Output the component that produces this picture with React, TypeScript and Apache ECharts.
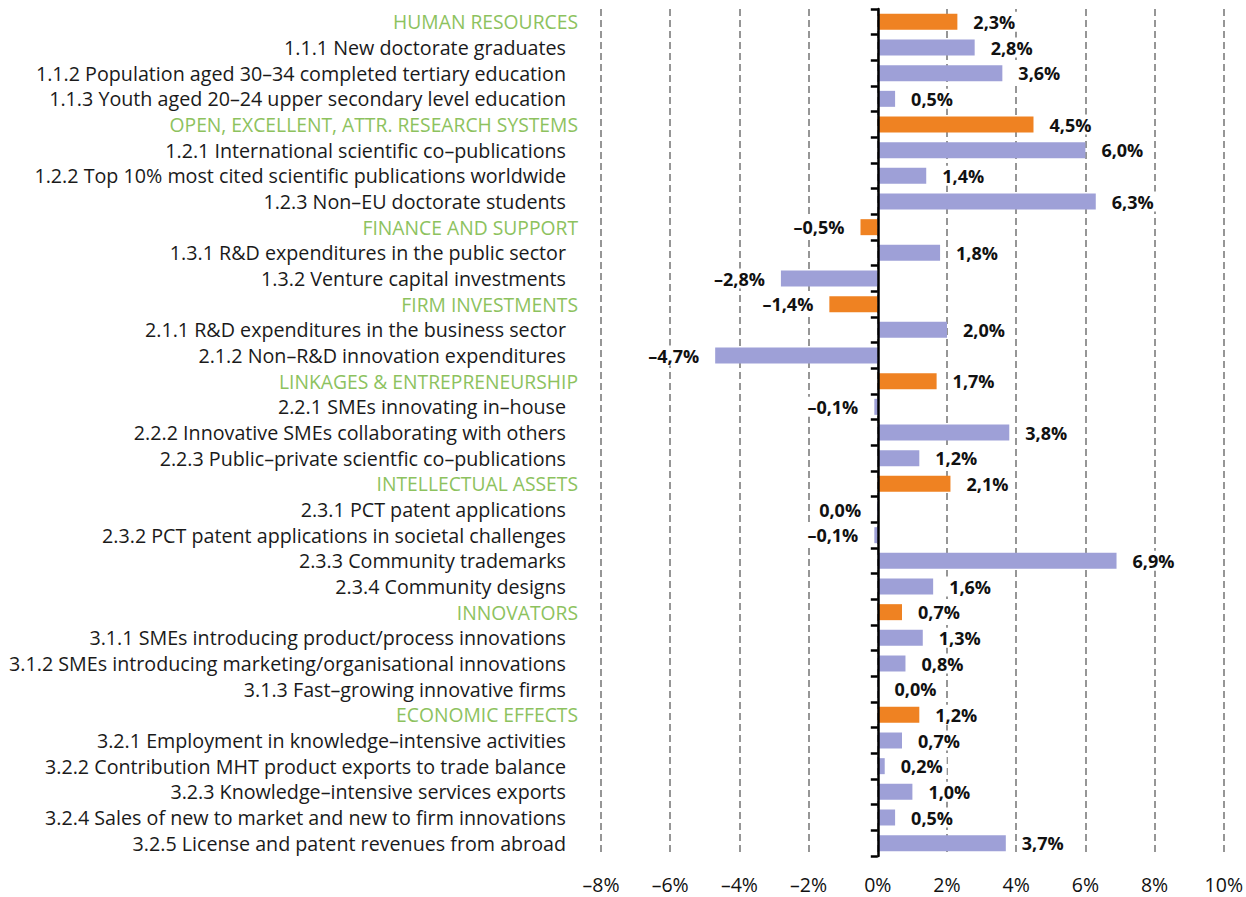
import React, { useEffect, useRef } from "react";
import * as echarts from "echarts";

const categories: string[] = [
  "HUMAN RESOURCES",
  "1.1.1 New doctorate graduates",
  "1.1.2 Population aged 30–34 completed tertiary education",
  "1.1.3 Youth aged 20–24 upper secondary level education",
  "OPEN, EXCELLENT, ATTR. RESEARCH SYSTEMS",
  "1.2.1 International scientific co–publications",
  "1.2.2 Top 10% most cited scientific publications worldwide",
  "1.2.3 Non–EU doctorate students",
  "FINANCE AND SUPPORT",
  "1.3.1 R&D expenditures in the public sector",
  "1.3.2 Venture capital investments",
  "FIRM INVESTMENTS",
  "2.1.1 R&D expenditures in the business sector",
  "2.1.2 Non–R&D innovation expenditures",
  "LINKAGES & ENTREPRENEURSHIP",
  "2.2.1 SMEs innovating in–house",
  "2.2.2 Innovative SMEs collaborating with others",
  "2.2.3 Public–private scientfic co–publications",
  "INTELLECTUAL ASSETS",
  "2.3.1 PCT patent applications",
  "2.3.2 PCT patent applications in societal challenges",
  "2.3.3 Community trademarks",
  "2.3.4 Community designs",
  "INNOVATORS",
  "3.1.1 SMEs introducing product/process innovations",
  "3.1.2 SMEs introducing marketing/organisational innovations",
  "3.1.3 Fast–growing innovative firms",
  "ECONOMIC EFFECTS",
  "3.2.1 Employment in knowledge–intensive activities",
  "3.2.2 Contribution MHT product exports to trade balance",
  "3.2.3 Knowledge–intensive services exports",
  "3.2.4 Sales of new to market and new to firm innovations",
  "3.2.5 License and patent revenues from abroad",
];

const values: number[] = [
  2.3, 2.8, 3.6, 0.5,
  4.5, 6.0, 1.4, 6.3,
  -0.5, 1.8, -2.8,
  -1.4, 2.0, -4.7,
  1.7, -0.1, 3.8, 1.2,
  2.1, -0.02, -0.1, 6.9, 1.6,
  0.7, 1.3, 0.8, 0.02,
  1.2, 0.7, 0.2, 1.0, 0.5, 3.7,
];

const headers: string[] = [
  "HUMAN RESOURCES",
  "OPEN, EXCELLENT, ATTR. RESEARCH SYSTEMS",
  "FINANCE AND SUPPORT",
  "FIRM INVESTMENTS",
  "LINKAGES & ENTREPRENEURSHIP",
  "INTELLECTUAL ASSETS",
  "INNOVATORS",
  "ECONOMIC EFFECTS",
];

const xTicks = { min: -8, max: 10, interval: 2 };

const ORANGE = "#EF8222";
const LAVENDER = "#9EA0D7";
const GREEN = "#8DC25E";
const FONT = "'Open Sans', 'Noto Sans', sans-serif";

function fmtValue(v: number): string {
  if (Math.abs(v) < 0.05) return "0,0%";
  const s = v.toFixed(1).replace(".", ",");
  return s.replace("-", "–") + "%";
}

export default function App() {
  const ref = useRef<HTMLDivElement>(null);

  useEffect(() => {
    document.body.style.margin = "0";
    if (!ref.current) return;
    const chart = echarts.init(ref.current, undefined, { renderer: "svg" });

    const data = values.map((v, i) => {
      const isHeader = headers.includes(categories[i]);
      return {
        value: v,
        itemStyle: { color: isHeader ? ORANGE : LAVENDER },
        label: { position: v < 0 ? "left" : "right" },
      };
    });

    chart.setOption({
      animation: false,
      backgroundColor: "#ffffff",
      grid: { left: 601, right: 22, top: 9, bottom: 41, containLabel: false },
      xAxis: {
        type: "value",
        min: xTicks.min,
        max: xTicks.max,
        interval: xTicks.interval,
        axisLine: { show: false },
        axisTick: { show: false },
        axisLabel: {
          margin: 18,
          fontFamily: FONT,
          fontSize: 19.5,
          color: "#111",
          formatter: (v: number) => `${v}`.replace("-", "–") + "%",
        },
        splitLine: {
          show: true,
          lineStyle: { color: "#969696", width: 2, type: [7, 4] },
        },
      },
      yAxis: [
        {
          type: "category",
          data: categories,
          inverse: true,
          position: "left",
          axisLine: { show: false, onZero: false },
          axisTick: { show: false },
          axisLabel: {
            margin: 23,
            interval: 0,
            formatter: (val: string) =>
              headers.includes(val) ? `{h|${val}}` : `{n|${val}}`,
            rich: {
              h: { color: GREEN, fontFamily: FONT, fontSize: 19.3 },
              n: { color: "#1a1a1a", fontFamily: FONT, fontSize: 19.7, padding: [0, 12, 0, 0] },
            },
          },
        },
        {
          type: "category",
          data: categories,
          inverse: true,
          position: "left",
          axisLine: { show: true, onZero: true, lineStyle: { color: "#000", width: 2.5 } },
          axisTick: { show: true, inside: false, length: 7, interval: 0, lineStyle: { color: "#000", width: 2.5 } },
          axisLabel: { show: false },
          z: 10,
        },
      ],
      series: [
        {
          type: "bar",
          yAxisIndex: 0,
          barWidth: 16,
          data,
          label: {
            show: true,
            distance: 12,
            fontFamily: FONT,
            fontSize: 18,
            fontWeight: "bold",
            color: "#111",
            backgroundColor: "#fff",
            padding: [1, 4],
            formatter: (p: any) => fmtValue(p.value),
          },
        },
      ],
    });

    return () => chart.dispose();
  }, []);

  return <div ref={ref} style={{ width: 1246, height: 897 }} />;
}
